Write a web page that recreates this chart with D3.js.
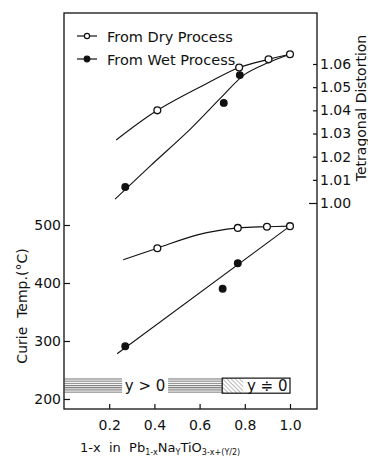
<!DOCTYPE html>
<html>
<head>
<meta charset="utf-8">
<script src="https://cdn.jsdelivr.net/npm/d3@7"></script>
<style>
body { margin: 0; background: #fff; }
text { font-family: "DejaVu Sans", sans-serif; fill: #111; }
</style>
</head>
<body>
<script>
// ticks
var xTicks = [0.2, 0.4, 0.6, 0.8, 1.0];
var tempTicks = [200, 300, 400, 500];
var caTicks = [1.00, 1.01, 1.02, 1.03, 1.04, 1.05, 1.06];

// tetragonal distortion (c/a)
var dryCaX = [0.413, 0.775, 0.905, 1.0];
var dryCaY = [1.040, 1.0585, 1.062, 1.0642];
var dryCaLine = [[0.231, 1.0272], [0.413, 1.040], [0.636, 1.0518], [0.775, 1.0585], [0.905, 1.062], [1.0, 1.0642]];
var wetCaX = [0.271, 0.707, 0.778];
var wetCaY = [1.0069, 1.0432, 1.0552];
var wetCaLine = [[0.226, 1.0017], [0.382, 1.016], [0.56, 1.032], [0.70, 1.046], [0.80, 1.0555], [0.902, 1.0605], [1.0, 1.0642]];

// curie temperature
var dryTX = [0.413, 0.769, 0.898, 1.0];
var dryTY = [460, 495, 497, 498];
var dryTLine = [[0.262, 440], [0.413, 460], [0.59, 483], [0.769, 495], [0.898, 497], [1.0, 498]];
var wetTX = [0.271, 0.702, 0.769];
var wetTY = [291, 390, 434];
var wetTLine = [[0.235, 278], [1.0, 498]];

// hatched band at the bottom
var bandT = [210, 236];
var bandParts = [{label: "y > 0", from: 0, to: 0.7}, {label: "y \u2251 0", from: 0.7, to: 1.0}];

var svg = d3.select("body").append("svg")
	.attr("width", 368)
	.attr("height", 459);

var x = d3.scaleLinear().domain([0, 1]).range([64, 290]);
var t = d3.scaleLinear().domain([200, 500]).range([399, 225]);
var ca = d3.scaleLinear().domain([1.00, 1.06]).range([203, 64]);

var defs = svg.append("defs");
var ph = defs.append("pattern").attr("id", "hz")
	.attr("patternUnits", "userSpaceOnUse").attr("width", 6).attr("height", 2.2);
ph.append("line").attr("x1", 0).attr("x2", 6).attr("y1", 0.6).attr("y2", 0.6)
	.attr("stroke", "#444").attr("stroke-width", 0.8);
var pd = defs.append("pattern").attr("id", "dg")
	.attr("patternUnits", "userSpaceOnUse").attr("width", 3).attr("height", 3)
	.attr("patternTransform", "rotate(-45)");
pd.append("line").attr("x1", 0).attr("x2", 0).attr("y1", 0).attr("y2", 3)
	.attr("stroke", "#555").attr("stroke-width", 0.8);

// frame
svg.append("rect")
	.attr("x", 64).attr("y", 13).attr("width", 253).attr("height", 396)
	.attr("fill", "none").attr("stroke", "#111").attr("stroke-width", 1.3);

// band
var b0 = bandParts[0], b1 = bandParts[1];
svg.append("rect")
	.attr("x", x(b0.from)).attr("y", t(bandT[1]))
	.attr("width", x(b0.to) - x(b0.from)).attr("height", t(bandT[0]) - t(bandT[1]))
	.attr("fill", "url(#hz)");
svg.append("rect")
	.attr("x", x((b0.from + b0.to) / 2) - 21).attr("y", t(bandT[1]) - 1)
	.attr("width", 46).attr("height", t(bandT[0]) - t(bandT[1]) + 2)
	.attr("fill", "#fff");
svg.append("text")
	.attr("x", x((b0.from + b0.to) / 2) + 2).attr("y", t((bandT[0] + bandT[1]) / 2) + 5.5)
	.attr("text-anchor", "middle").attr("font-size", 15)
	.text(b0.label);
svg.append("rect")
	.attr("x", x(b1.from)).attr("y", t(bandT[1]))
	.attr("width", 21).attr("height", t(bandT[0]) - t(bandT[1]))
	.attr("fill", "url(#dg)");
svg.append("rect")
	.attr("x", x(b1.from)).attr("y", t(bandT[1]))
	.attr("width", x(b1.to) - x(b1.from)).attr("height", t(bandT[0]) - t(bandT[1]))
	.attr("fill", "none").attr("stroke", "#111").attr("stroke-width", 1.2);
svg.append("text")
	.attr("x", x(b1.from) + 45).attr("y", t((bandT[0] + bandT[1]) / 2) + 5.5)
	.attr("text-anchor", "middle").attr("font-size", 15)
	.text(b1.label);

// axes
var gx = svg.append("g").attr("transform", "translate(0,409)")
	.call(d3.axisBottom(x).tickValues(xTicks).tickSize(-5).tickPadding(11).tickFormat(d3.format(".1f")));
var gl = svg.append("g").attr("transform", "translate(64,0)")
	.call(d3.axisLeft(t).tickValues(tempTicks).tickSize(-6).tickPadding(3));
var gr = svg.append("g").attr("transform", "translate(317,0)")
	.call(d3.axisRight(ca).tickValues(caTicks).tickSize(-4).tickPadding(3).tickFormat(d3.format(".2f")));
[gx, gl, gr].forEach(function (g) {
	g.select(".domain").remove();
	g.selectAll("text").attr("font-size", 14).attr("font-family", "DejaVu Sans").attr("fill", "#111");
	g.selectAll("line").attr("stroke", "#111").attr("stroke-width", 1.2);
});
gr.selectAll(".tick line").filter(function (d) { return d === 1.00; }).attr("x2", -8);

// lines
var lineT = d3.line().x(function (d) { return x(d[0]); }).y(function (d) { return t(d[1]); }).curve(d3.curveCatmullRom.alpha(0.5));
var lineCa = d3.line().x(function (d) { return x(d[0]); }).y(function (d) { return ca(d[1]); }).curve(d3.curveCatmullRom.alpha(0.5));

[[dryCaLine, lineCa], [wetCaLine, lineCa], [dryTLine, lineT], [wetTLine, lineT]].forEach(function (p) {
	svg.append("path").attr("d", p[1](p[0]))
		.attr("fill", "none").attr("stroke", "#111").attr("stroke-width", 1.1);
});

// markers
var marks = function (xs, ys, sc, open) {
	svg.append("g").selectAll("circle")
		.data(xs)
		.enter()
		.append("circle")
		.attr("cx", function (d) { return x(d); })
		.attr("cy", function (d, i) { return sc(ys[i]); })
		.attr("r", open ? 3.4 : 3.3)
		.attr("fill", open ? "#fff" : "#111")
		.attr("stroke", "#111").attr("stroke-width", 1.3);
};
marks(dryCaX, dryCaY, ca, true);
marks(wetCaX, wetCaY, ca, false);
marks(dryTX, dryTY, t, true);
marks(wetTX, wetTY, t, false);

// legend
var legend = [{label: "From Dry Process", open: true, y: 36}, {label: "From Wet Process", open: false, y: 59}];
legend.forEach(function (d) {
	svg.append("line").attr("x1", 77).attr("x2", 97).attr("y1", d.y).attr("y2", d.y)
		.attr("stroke", "#111").attr("stroke-width", 1.2);
	svg.append("circle").attr("cx", 87).attr("cy", d.y).attr("r", d.open ? 2.6 : 2.8)
		.attr("fill", d.open ? "#fff" : "#111").attr("stroke", "#111").attr("stroke-width", 1.2);
	svg.append("text").attr("x", 107).attr("y", d.y + 5.5).attr("font-size", 14.5).text(d.label);
});

// axis titles
svg.append("text")
	.attr("transform", "translate(27,306) rotate(-90)")
	.attr("text-anchor", "middle").attr("font-size", 14)
	.attr("xml:space", "preserve")
	.text("Curie  Temp.(\u00b0C)");
svg.append("text")
	.attr("transform", "translate(366,108) rotate(-90)")
	.attr("text-anchor", "middle").attr("font-size", 14)
	.text("Tetragonal Distortion");

var xt = svg.append("text").attr("x", 80).attr("y", 452).attr("font-size", 13)
	.attr("xml:space", "preserve");
xt.append("tspan").text("1-x  in  Pb");
xt.append("tspan").attr("font-size", 8).attr("dy", 3).text("1-x");
xt.append("tspan").attr("dy", -3).text("Na");
xt.append("tspan").attr("font-size", 8).attr("dy", 3).text("Y");
xt.append("tspan").attr("dy", -3).text("TiO");
xt.append("tspan").attr("font-size", 8).attr("dy", 3).text("3-x+(Y/2)");
</script>
</body>
</html>
